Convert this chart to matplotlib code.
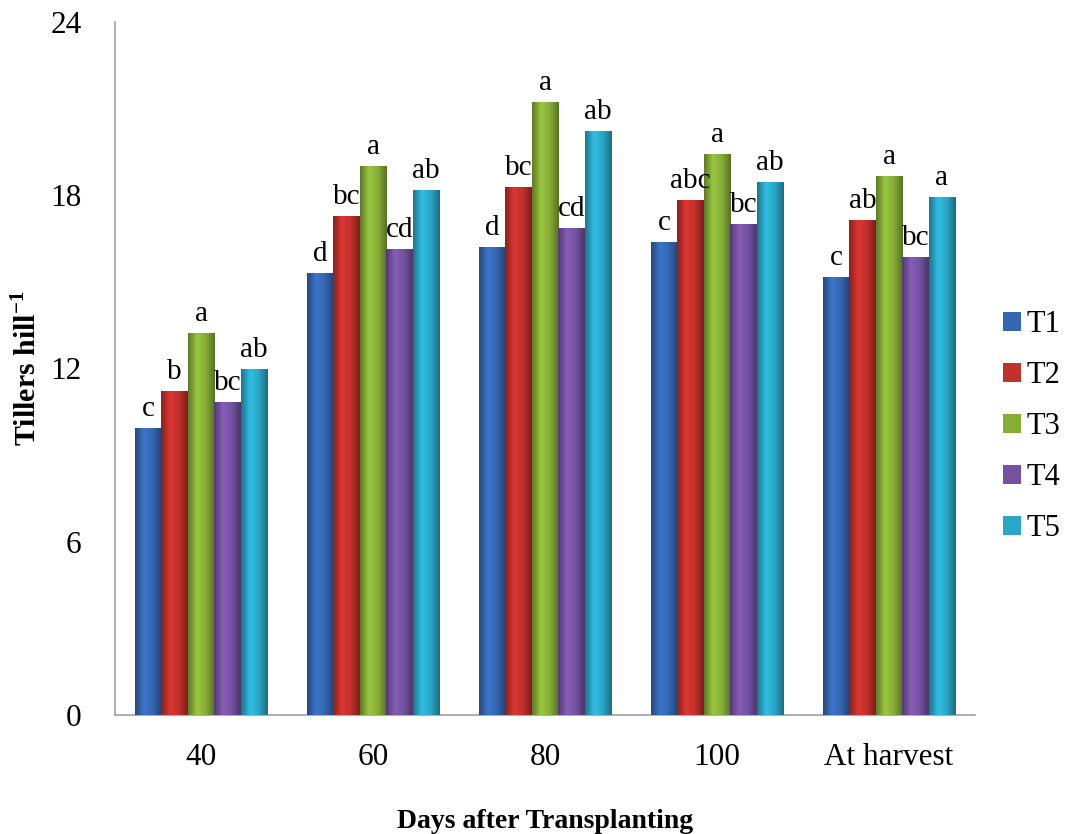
import numpy as np
import matplotlib.pyplot as plt
from matplotlib.patches import Patch
from matplotlib.colors import LinearSegmentedColormap, to_rgb

plt.rcParams['font.family'] = ['Liberation Serif', 'DejaVu Serif']
plt.rcParams['mathtext.fontset'] = 'custom'
plt.rcParams['mathtext.rm'] = 'Liberation Serif'
plt.rcParams['mathtext.bf'] = 'Liberation Serif:bold'

days = ["40", "60", "80", "100", "At harvest"]
treatments = ["T1", "T2", "T3", "T4", "T5"]
T1 = [9.94, 15.31, 16.21, 16.38, 15.17]
T2 = [11.22, 17.28, 18.29, 17.84, 17.14]
T3 = [13.23, 19.01, 21.23, 19.43, 18.67]
T4 = [10.84, 16.14, 16.87, 17.00, 15.86]
T5 = [11.98, 18.18, 20.22, 18.46, 17.94]
letters_T1 = ["c", "d", "d", "c", "c"]
letters_T2 = ["b", "bc", "bc", "abc", "ab"]
letters_T3 = ["a", "a", "a", "a", "a"]
letters_T4 = ["bc", "cd", "cd", "bc", "bc"]
letters_T5 = ["ab", "ab", "ab", "ab", "a"]

series = [T1, T2, T3, T4, T5]
letters = [letters_T1, letters_T2, letters_T3, letters_T4, letters_T5]
colors = ["#3566b0", "#c0302c", "#86ad38", "#7452a0", "#2ba6c6"]

fig = plt.figure(figsize=(10.65, 8.34), dpi=100)
ax = fig.add_axes([0.108, 0.1427, 0.8075, 0.831])

x = np.arange(len(days))
w = 0.154
for i, (vals, col, labs) in enumerate(zip(series, colors, letters)):
    pos = x + (i - 2) * w
    bars = ax.bar(pos, vals, width=w, color=col, edgecolor='none', zorder=2)
    c = np.array(to_rgb(col))
    cmap = LinearSegmentedColormap.from_list(
        "g%d" % i, [c * 0.7, np.minimum(c * 1.15, 1), c * 1.0, c * 0.65])
    grad = np.linspace(0, 1, 64).reshape(1, -1)
    for b, v, lab in zip(bars, vals, labs):
        x0 = b.get_x()
        im = ax.imshow(grad, cmap=cmap, aspect='auto', zorder=3,
                       extent=[x0, x0 + w, 0, v], interpolation='bicubic')
        im.set_clip_path(b)
        ax.text(x0 + w / 2, v + 0.2, lab, ha='center', va='bottom',
                fontsize=21, zorder=4)

ax.set_xlim(-0.5, len(days) - 0.5)
ax.set_ylim(0, 24)
ax.set_yticks([0, 6, 12, 18, 24])
ax.set_xticks(x)
ax.set_xticklabels(days)
ax.tick_params(axis='both', length=0, labelsize=22.5)
ax.tick_params(axis='x', pad=20)
ax.tick_params(axis='y', pad=24)
for s in ['top', 'right']:
    ax.spines[s].set_visible(False)
for s in ['left', 'bottom']:
    ax.spines[s].set_color('#a0a0a0')
    ax.spines[s].set_linewidth(1.2)

ax.set_ylabel("Tillers hill$^{\\mathbf{-1}}$", fontsize=21.5, fontweight='bold', labelpad=6)
ax.set_xlabel("Days after Transplanting", fontsize=20, fontweight='bold', labelpad=27)

handles = [Patch(facecolor=c, edgecolor='none') for c in colors]
ax.legend(handles, treatments, loc='center left', bbox_to_anchor=(1.0, 0.416),
          frameon=False, fontsize=22, handlelength=0.6, handleheight=0.6,
          handletextpad=0.2, labelspacing=0.72)

fig.savefig("out.png", dpi=100)
